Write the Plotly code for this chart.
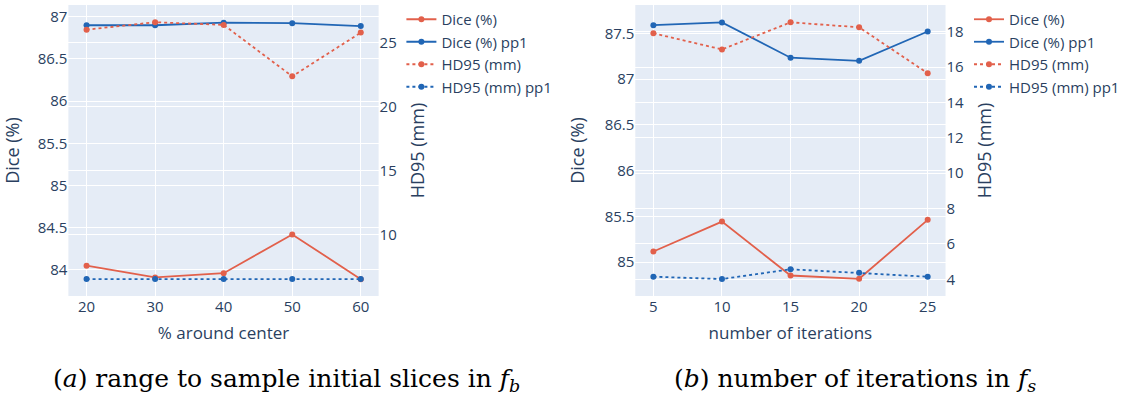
import plotly.graph_objects as go

# ---- data ----
x_a = [20, 30, 40, 50, 60]
dice_a = [84.05, 83.91, 83.96, 84.42, 83.89]
dice_pp1_a = [86.90, 86.90, 86.93, 86.925, 86.89]
hd95_a = [25.98, 26.56, 26.35, 22.35, 25.75]
hd95_pp1_a = [6.57, 6.57, 6.57, 6.57, 6.57]

x_b = [5, 10, 15, 20, 25]
dice_b = [85.116, 85.443, 84.854, 84.818, 85.462]
dice_pp1_b = [87.59, 87.62, 87.234, 87.20, 87.52]
hd95_b = [17.91, 17.0, 18.53, 18.25, 15.65]
hd95_pp1_b = [4.15, 4.02, 4.57, 4.37, 4.15]

names = ["Dice (%)", "Dice (%) pp1", "HD95 (mm)", "HD95 (mm) pp1"]
caption_a = "(<i>a</i>) range to sample initial slices in <i>f<sub>b</sub></i>"
caption_b = "(<i>b</i>) number of iterations in <i>f<sub>s</sub></i>"

RED = "#e2604b"
BLUE = "#2166b5"

W, H = 1125, 400
fig = go.Figure()

def add_panel(x, dice, dice_pp1, hd, hd_pp1, xa, ya, ya2, leg):
    series = [
        (dice, RED, "solid", ya),
        (dice_pp1, BLUE, "solid", ya),
        (hd, RED, "dot", ya2),
        (hd_pp1, BLUE, "dot", ya2),
    ]
    for (vals, col, dash, yax), nm in zip(series, names):
        fig.add_trace(go.Scatter(
            x=x, y=vals, name=nm, mode="lines+markers",
            line=dict(color=col, width=1.8, dash=dash),
            marker=dict(color=col, size=6),
            xaxis=xa, yaxis=yax, legend=leg))

add_panel(x_a, dice_a, dice_pp1_a, hd95_a, hd95_pp1_a, "x", "y", "y2", "legend")
add_panel(x_b, dice_b, dice_pp1_b, hd95_b, hd95_pp1_b, "x2", "y3", "y4", "legend2")

ytop = 1 - 5 / H
ybot = 1 - 296 / H
tickf = dict(size=15)
titlef = dict(size=18)
xtitle = dict(size=17)

fig.update_layout(
    width=W, height=H,
    margin=dict(l=0, r=0, t=0, b=0),
    font=dict(family="Open Sans", color="#2a3f5f"),
    plot_bgcolor="#e5ecf6", paper_bgcolor="white",
    xaxis=dict(domain=[69 / W, 382 / W], anchor="y", range=[17.35, 62.6],
               tickvals=x_a, title=dict(text="% around center", font=xtitle, standoff=12),
               tickfont=tickf, gridcolor="white", zeroline=False, automargin=False),
    yaxis=dict(domain=[ybot, ytop], anchor="x", range=[83.69, 87.14],
               dtick=0.5, title=dict(text="Dice (%)", font=titlef),
               tickfont=tickf, gridcolor="white", zeroline=False, automargin=False),
    yaxis2=dict(overlaying="y", side="right", anchor="x", range=[5.25, 27.9],
                dtick=5, title=dict(text="HD95 (mm)", font=titlef),
                tickfont=tickf, gridcolor="white", zeroline=False, automargin=False),
    xaxis2=dict(domain=[641 / W, 954 / W], anchor="y3", range=[3.68, 26.3],
                tickvals=x_b, title=dict(text="number of iterations", font=xtitle, standoff=12),
                tickfont=tickf, gridcolor="white", zeroline=False, automargin=False),
    yaxis3=dict(domain=[ybot, ytop], anchor="x2", range=[84.63, 87.81],
                dtick=0.5, title=dict(text="Dice (%)", font=titlef),
                tickfont=tickf, gridcolor="white", zeroline=False, automargin=False),
    yaxis4=dict(overlaying="y3", side="right", anchor="x2", range=[3.06, 19.51],
                dtick=2, title=dict(text="HD95 (mm)", font=titlef),
                tickfont=tickf, gridcolor="white", zeroline=False, automargin=False),
    legend=dict(x=405 / W, y=1 - 3 / H, xanchor="left", yanchor="top",
                font=dict(size=15), bgcolor="rgba(0,0,0,0)"),
    legend2=dict(x=978 / W, y=1 - 3 / H, xanchor="left", yanchor="top",
                 font=dict(size=15), bgcolor="rgba(0,0,0,0)"),
    annotations=[
        dict(text=caption_a, x=289 / W, y=1 - 380 / H, xref="paper", yref="paper",
             showarrow=False, xanchor="center", yanchor="middle",
             font=dict(family="DejaVu Serif", size=25, color="black")),
        dict(text=caption_b, x=863 / W, y=1 - 380 / H, xref="paper", yref="paper",
             showarrow=False, xanchor="center", yanchor="middle",
             font=dict(family="DejaVu Serif", size=25, color="black")),
    ],
)

fig.write_html("out.html", config={"displayModeBar": False},
               post_script="document.body.style.margin='0';")
